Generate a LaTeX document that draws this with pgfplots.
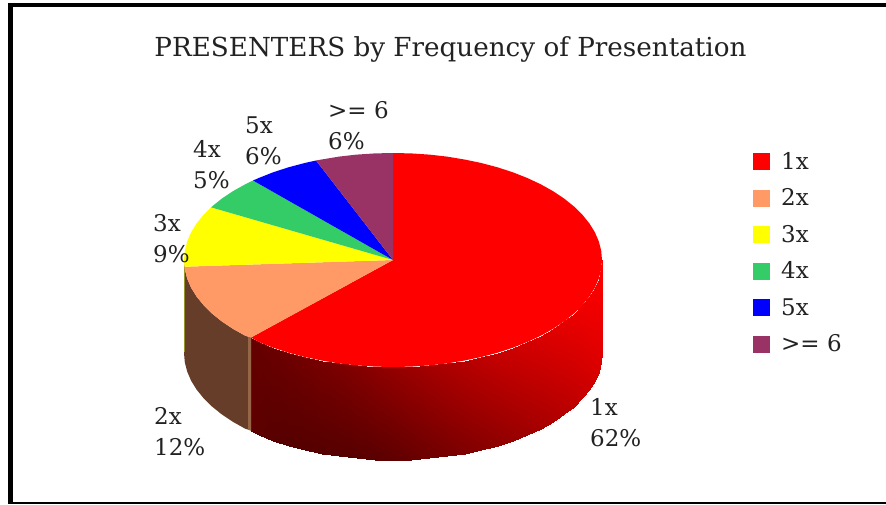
\documentclass[border=0pt]{standalone}
\usepackage{pgfplots}
\pgfplotsset{compat=1.18}
\usepackage{fontspec}
\setmainfont{DejaVu Serif}
\definecolor{c1}{HTML}{FF0000}
\definecolor{c2}{HTML}{FF9966}
\definecolor{c3}{HTML}{FFFF00}
\definecolor{c4}{HTML}{33CC66}
\definecolor{c5}{HTML}{0000FF}
\definecolor{c6}{HTML}{993366}
\definecolor{ink}{HTML}{222222}
\begin{document}
\begin{tikzpicture}
\begin{axis}[
  at={(0pt,0pt)}, anchor=south west,
  scale only axis, width=886pt, height=504pt,
  xmin=0, xmax=886, ymin=0, ymax=504, y dir=reverse,
  hide axis, clip=false,
  colormap={sidered}{rgb255(0)=(0,0,0); rgb255(1)=(255,0,0)},
  point meta min=0, point meta max=255,
  legend style={draw=none, fill=none, at={(axis cs:753,150)}, anchor=north west,
    font=\fontsize{23}{25}\selectfont\color{ink}, row sep=14pt, inner sep=0pt,
    /tikz/every odd column/.append style={column sep=9pt}},
  legend cell align=left,
  legend image code/.code={\fill[#1] (0pt,-8.5pt) rectangle (17pt,8.5pt);},
]
% side of the 1x slice
\addplot[surf, shader=interp, mesh/rows=2, point meta=explicit, forget plot] table[x=x,y=y,meta=m] {
x y m
602 260 255
601.2 269.3 252
598.8 278.6 250
594.9 287.7 248
589.4 296.6 245
582.4 305.2 240
574 313.5 235
564.2 321.4 230
553.1 328.8 225
540.8 335.7 218
527.3 342 212
512.9 347.7 205
497.5 352.7 198
481.3 357 190
464.5 360.5 182
447.1 363.4 174
429.3 365.4 165
411.2 366.6 156
393 367 148
374.8 366.6 140
356.7 365.4 132
338.9 363.4 125
321.5 360.5 120
304.7 357 115
288.5 352.7 110
273.1 347.7 106
258.7 342 103
251 337.5 100
602 353 225
601.2 362.3 222
598.8 371.6 218
594.9 380.7 212
589.4 389.6 205
582.4 398.2 198
574 406.5 190
564.2 414.4 182
553.1 421.8 174
540.8 428.7 166
527.3 435 158
512.9 440.7 150
497.5 445.7 142
481.3 450 134
464.5 453.5 126
447.1 456.4 118
429.3 458.4 110
411.2 459.6 102
393 460 95
374.8 459.6 90
356.7 458.4 88
338.9 456.4 86
321.5 453.5 85
304.7 450 85
288.5 445.7 86
273.1 440.7 88
258.7 435 92
251 430.5 95
};
% side of the 2x slice
\addplot[draw=none, fill={rgb,255:red,102;green,61;blue,41}, forget plot] coordinates {
(251,337.5)(245.2,335.7)(232.9,328.8)(221.8,321.4)(212,313.5)(203.6,305.2)(196.6,296.6)(191.1,287.7)(187.2,278.6)(184.8,269.3)(184,260)
(184,353)(184.8,362.3)(187.2,371.6)(191.1,380.7)(196.6,389.6)(203.6,398.2)(212,406.5)(221.8,414.4)(232.9,421.8)(245.2,428.7)(251,430.5)
} -- cycle;
\addplot[draw=none, fill={rgb,255:red,150;green,100;blue,70}, forget plot] coordinates {
(248,336.8)(251,337.5)(251,430.5)(248,429.8)
} -- cycle;
% hairline of the 3x side
\addplot[line width=0.8pt, color={rgb,255:red,150;green,150;blue,40}, forget plot] coordinates {(184,268)(184,352)};
% top faces
\addplot[fill=c1, draw=none] coordinates {
(393,260)(393,153)(411.2,153.4)(429.3,154.6)(447.1,156.6)(464.5,159.5)(481.3,163)(497.5,167.3)(512.9,172.3)(527.3,178)(540.8,184.3)(553.1,191.2)(564.2,198.6)(574,206.5)(582.4,214.8)(589.4,223.4)(594.9,232.3)(598.8,241.4)(601.2,250.7)(602,260)
(601.2,269.3)(598.8,278.6)(594.9,287.7)(589.4,296.6)(582.4,305.2)(574,313.5)(564.2,321.4)(553.1,328.8)(540.8,335.7)(527.3,342)(512.9,347.7)(497.5,352.7)(481.3,357)(464.5,360.5)(447.1,363.4)(429.3,365.4)(411.2,366.6)(393,367)
(374.8,366.6)(356.7,365.4)(338.9,363.4)(321.5,360.5)(304.7,357)(288.5,352.7)(273.1,347.7)(258.7,342)(251,337.5)
} -- cycle;
\addlegendentry{1x}
\addplot[fill=c2, draw=none] coordinates {
(393,260)(251,337.5)(245.2,335.7)(232.9,328.8)(221.8,321.4)(212,313.5)(203.6,305.2)(196.6,296.6)(191.1,287.7)(187.2,278.6)(184.8,269.3)(184.4,266.7)
} -- cycle;
\addlegendentry{2x}
\addplot[fill=c3, draw=none] coordinates {
(393,260)(184.4,266.7)(184,260)(184.8,250.7)(187.2,241.4)(191.1,232.3)(196.6,223.4)(203.6,214.8)(211,207.3)
} -- cycle;
\addlegendentry{3x}
\addplot[fill=c4, draw=none] coordinates {
(393,260)(211,207.3)(221.8,198.6)(232.9,191.2)(245.2,184.3)(253,180.5)
} -- cycle;
\addlegendentry{4x}
\addplot[fill=c5, draw=none] coordinates {
(393,260)(253,180.5)(258.7,178)(273.1,172.3)(288.5,167.3)(304.7,163)(316,160.5)
} -- cycle;
\addlegendentry{5x}
\addplot[fill=c6, draw=none] coordinates {
(393,260)(316,160.5)(321.5,159.5)(338.9,156.6)(356.7,154.6)(374.8,153.4)(393,153)
} -- cycle;
\addlegendentry{>= 6}
% frame
\addplot[black, line width=4.5pt, forget plot] coordinates {(10.5,504)(10.5,5)(886,5)};
\addplot[black, line width=1.6pt, forget plot] coordinates {(10,503.2)(886,503.2)};
% texts
\node[font=\fontsize{26.2}{28}\selectfont, text=ink, inner sep=0pt] at (axis cs:450.5,49) {PRESENTERS by Frequency of Presentation};
\tikzset{dl/.style={font=\fontsize{23}{31}\selectfont, text=ink, align=left, anchor=west, inner sep=0pt}}
\node[dl] at (axis cs:328,126) {>= 6\\6\%};
\node[dl] at (axis cs:245,141) {5x\\6\%};
\node[dl] at (axis cs:193,165) {4x\\5\%};
\node[dl] at (axis cs:153,239) {3x\\9\%};
\node[dl] at (axis cs:154,432) {2x\\12\%};
\node[dl] at (axis cs:590,423) {1x\\62\%};
\end{axis}
\pgfresetboundingbox
\path[use as bounding box] (0pt,0pt) rectangle (886pt,504pt);
\end{tikzpicture}
\end{document}
